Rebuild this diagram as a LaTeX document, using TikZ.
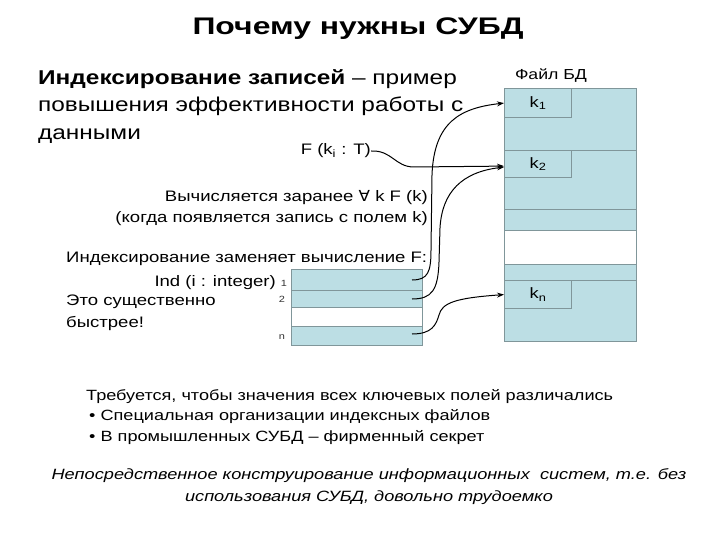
\documentclass[tikz,border=0pt]{standalone}
\usepackage{fontspec}
\setmainfont{Liberation Sans}[FakeStretch=1.22]
\newfontfamily\titlefont{Liberation Sans}[FakeStretch=1.33]
\newfontfamily\dejavu{DejaVu Sans}[FakeStretch=1.1]
\usetikzlibrary{arrows.meta}
\definecolor{cellfill}{RGB}{188,222,228}
\definecolor{cellline}{RGB}{128,150,154}
\tikzset{
  cell/.style={draw=cellline, line width=1.2pt, fill=cellfill, inner sep=0pt, anchor=north west},
  blank/.style={draw=cellline, line width=1.2pt, fill=white, inner sep=0pt, anchor=north west},
  keycell/.style={cell, font=\fontsize{15}{18}\selectfont},
  conn/.style={line width=1pt, -{Stealth[length=7pt,width=5pt]}},
  lbl/.style={inner sep=0pt, font=\fontsize{15.2}{21}\selectfont},
  tiny/.style={inner sep=0pt, font=\fontsize{9}{10}\selectfont, text=black!80},
}
\begin{document}
\begin{tikzpicture}[x=1pt,y=-1pt]
\useasboundingbox (0,0) rectangle (720,540);
% title
\node[inner sep=0pt, anchor=base, font=\fontsize{24}{28}\titlefont\bfseries\selectfont] (title) at (358,35) {Почему нужны СУБД};
% heading
\node[inner sep=0pt, anchor=north west, align=left, font=\fontsize{20}{27.5}\selectfont] (head) at (38,69)
 {\textbf{Индексирование записей} – пример\\повышения эффективности работы с\\данными};
% file DB
\node[inner sep=0pt, font=\fontsize{14.5}{18}\selectfont] (ftitle) at (551,76) {Файл БД};
\node[cell, minimum width=132pt, minimum height=62pt] (r1) at (504,88) {};
\node[cell, minimum width=132pt, minimum height=59pt] (r2) at (504,150) {};
\node[cell, minimum width=132pt, minimum height=21pt] (r3) at (504,209) {};
\node[blank, minimum width=132pt, minimum height=34pt] (r4) at (504,230) {};
\node[cell, minimum width=132pt, minimum height=16pt] (r5) at (504,264) {};
\node[cell, minimum width=132pt, minimum height=61pt] (rn) at (504,280) {};
\node[keycell, minimum width=67pt, minimum height=29pt] (k1) at (504,88) {k\textsubscript{1}};
\node[keycell, minimum width=67pt, minimum height=27pt] (k2) at (504,150) {k\textsubscript{2}};
\node[keycell, minimum width=67pt, minimum height=28pt] (kn) at (504,280) {k\textsubscript{n}};
% F label
\node[lbl, anchor=east] (F) at (371,151) {F (k\textsubscript{i} : T)};
% middle text
\node[lbl, anchor=east, align=right] (pre) at (428,208)
 {Вычисляется заранее {\dejavu ∀} k F (k)\\(когда появляется запись с полем k)};
\node[lbl, anchor=west] (repl) at (66,259) {Индексирование заменяет вычисление F:};
\node[lbl, anchor=east] (ind) at (276,283) {Ind (i : integer)};
\node[lbl, anchor=north west, align=left, font=\fontsize{15.2}{22}\selectfont] (fast) at (66,295) {Это существенно\\быстрее!};
% index table
\node[cell, minimum width=131pt, minimum height=21pt] (i1) at (291,269) {};
\node[cell, minimum width=131pt, minimum height=17pt] (i2) at (291,290) {};
\node[blank, minimum width=131pt, minimum height=19pt] (i3) at (291,307) {};
\node[cell, minimum width=131pt, minimum height=19pt] (in) at (291,326) {};
\node[tiny] (n1) at (284,283) {1};
\node[tiny] (n2) at (282,299) {2};
\node[tiny] (nn) at (282,337) {n};
\coordinate (s1) at (412,280);
\coordinate (s2) at (412,299);
\coordinate (sn) at (412,334);
% connectors
\draw[conn] (s1) .. controls (428,280) and (431,272) .. (431,250) -- (432,175) .. controls (434,122) and (460,108) .. (k1.west);
\draw[conn] (s2) .. controls (432,299) and (438,290) .. (439,262) -- (440,228) .. controls (442,192) and (462,172) .. ([yshift=-3pt]k2.west);
\draw[conn] (F.east) .. controls (392,150) and (395,167) .. (414,167) -- ([yshift=-2pt]k2.west);
\draw[conn] (sn) .. controls (432,334) and (436,325) .. (439,315) .. controls (442,303) and (455,298) .. (kn.west);
% lower text
\node[inner sep=0pt, anchor=north west, align=left, font=\fontsize{14.85}{20.5}\selectfont] (req) at (86,389)
 {Требуется, чтобы значения всех ключевых полей различались\\
  \hspace*{3pt}• Специальная организации индексных файлов\\
  \hspace*{3pt}• В промышленных СУБД – фирменный секрет};
\node[inner sep=0pt, align=center, font=\fontsize{14.9}{22}\itshape\selectfont] (concl) at (369,487)
 {Непосредственное конструирование информационных\ \ систем, т.е. без\\использования СУБД, довольно трудоемко};
\end{tikzpicture}
\end{document}
